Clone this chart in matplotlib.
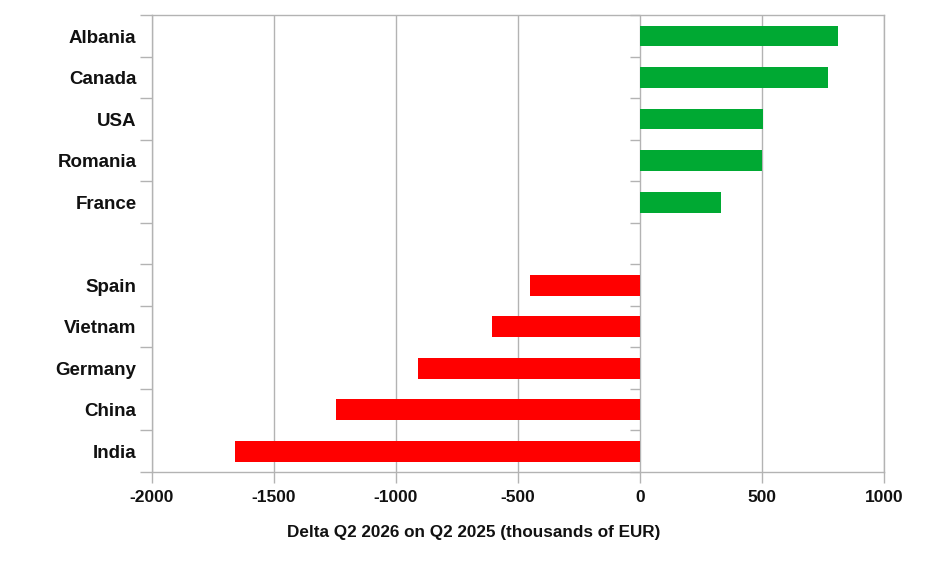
import numpy as np
import matplotlib
matplotlib.use("Agg")
import matplotlib.pyplot as plt

countries = ["Albania", "Canada", "USA", "Romania", "France", "",
             "Spain", "Vietnam", "Germany", "China", "India"]
values = [810, 768, 504, 499, 330, 0, -452, -606, -910, -1245, -1660]
xticks = [-2000, -1500, -1000, -500, 0, 500, 1000]
xlabel = "Delta Q2 2026 on Q2 2025 (thousands of EUR)"

GREEN = "#00a933"
RED = "#ff0000"
GRAY = "#b3b3b3"
TEXT = "#111111"

plt.rcParams['font.family'] = ['Liberation Sans', 'DejaVu Sans']
plt.rcParams['font.weight'] = 'bold'

fig = plt.figure(figsize=(9.47, 5.85), dpi=100)
ax = fig.add_axes([0.1602, 0.1932, 0.9339 - 0.1602, 0.9738 - 0.1932])

pos = np.arange(len(countries))
colors = [GREEN if v >= 0 else RED for v in values]
ax.barh(pos, values, height=0.5, color=colors, zorder=3)

ax.set_xlim(xticks[0], xticks[-1])
ax.set_ylim(len(countries) - 0.5, -0.5)

ax.set_xticks(xticks)
ax.set_xticklabels([str(t) for t in xticks], fontsize=12.5, fontweight='bold', color=TEXT)
ax.tick_params(axis='x', length=8, width=1, color=GRAY, pad=5)
ax.grid(axis='x', color=GRAY, linewidth=1, zorder=0)

bounds = np.arange(len(countries) + 1) - 0.5
ax.set_yticks(bounds)
ax.set_yticklabels([])
ax.tick_params(axis='y', which='major', length=9, width=1, color=GRAY)
ax.set_yticks(pos, minor=True)
ax.set_yticklabels(countries, minor=True, fontsize=13.5, fontweight='bold', color=TEXT)
ax.tick_params(axis='y', which='minor', length=0, pad=11)

# ticks on the category axis at zero
ax.plot(np.zeros(len(bounds)), bounds, linestyle='none', marker=0,
        markersize=7, markeredgewidth=1, color=GRAY, zorder=2, clip_on=False)

for s in ax.spines.values():
    s.set_color(GRAY)
    s.set_linewidth(1)

fig.text(0.5, 1 - 532 / 585, xlabel, ha='center', va='center',
         fontsize=12.3, fontweight='bold', color=TEXT)

fig.savefig("out.png", dpi=100)
